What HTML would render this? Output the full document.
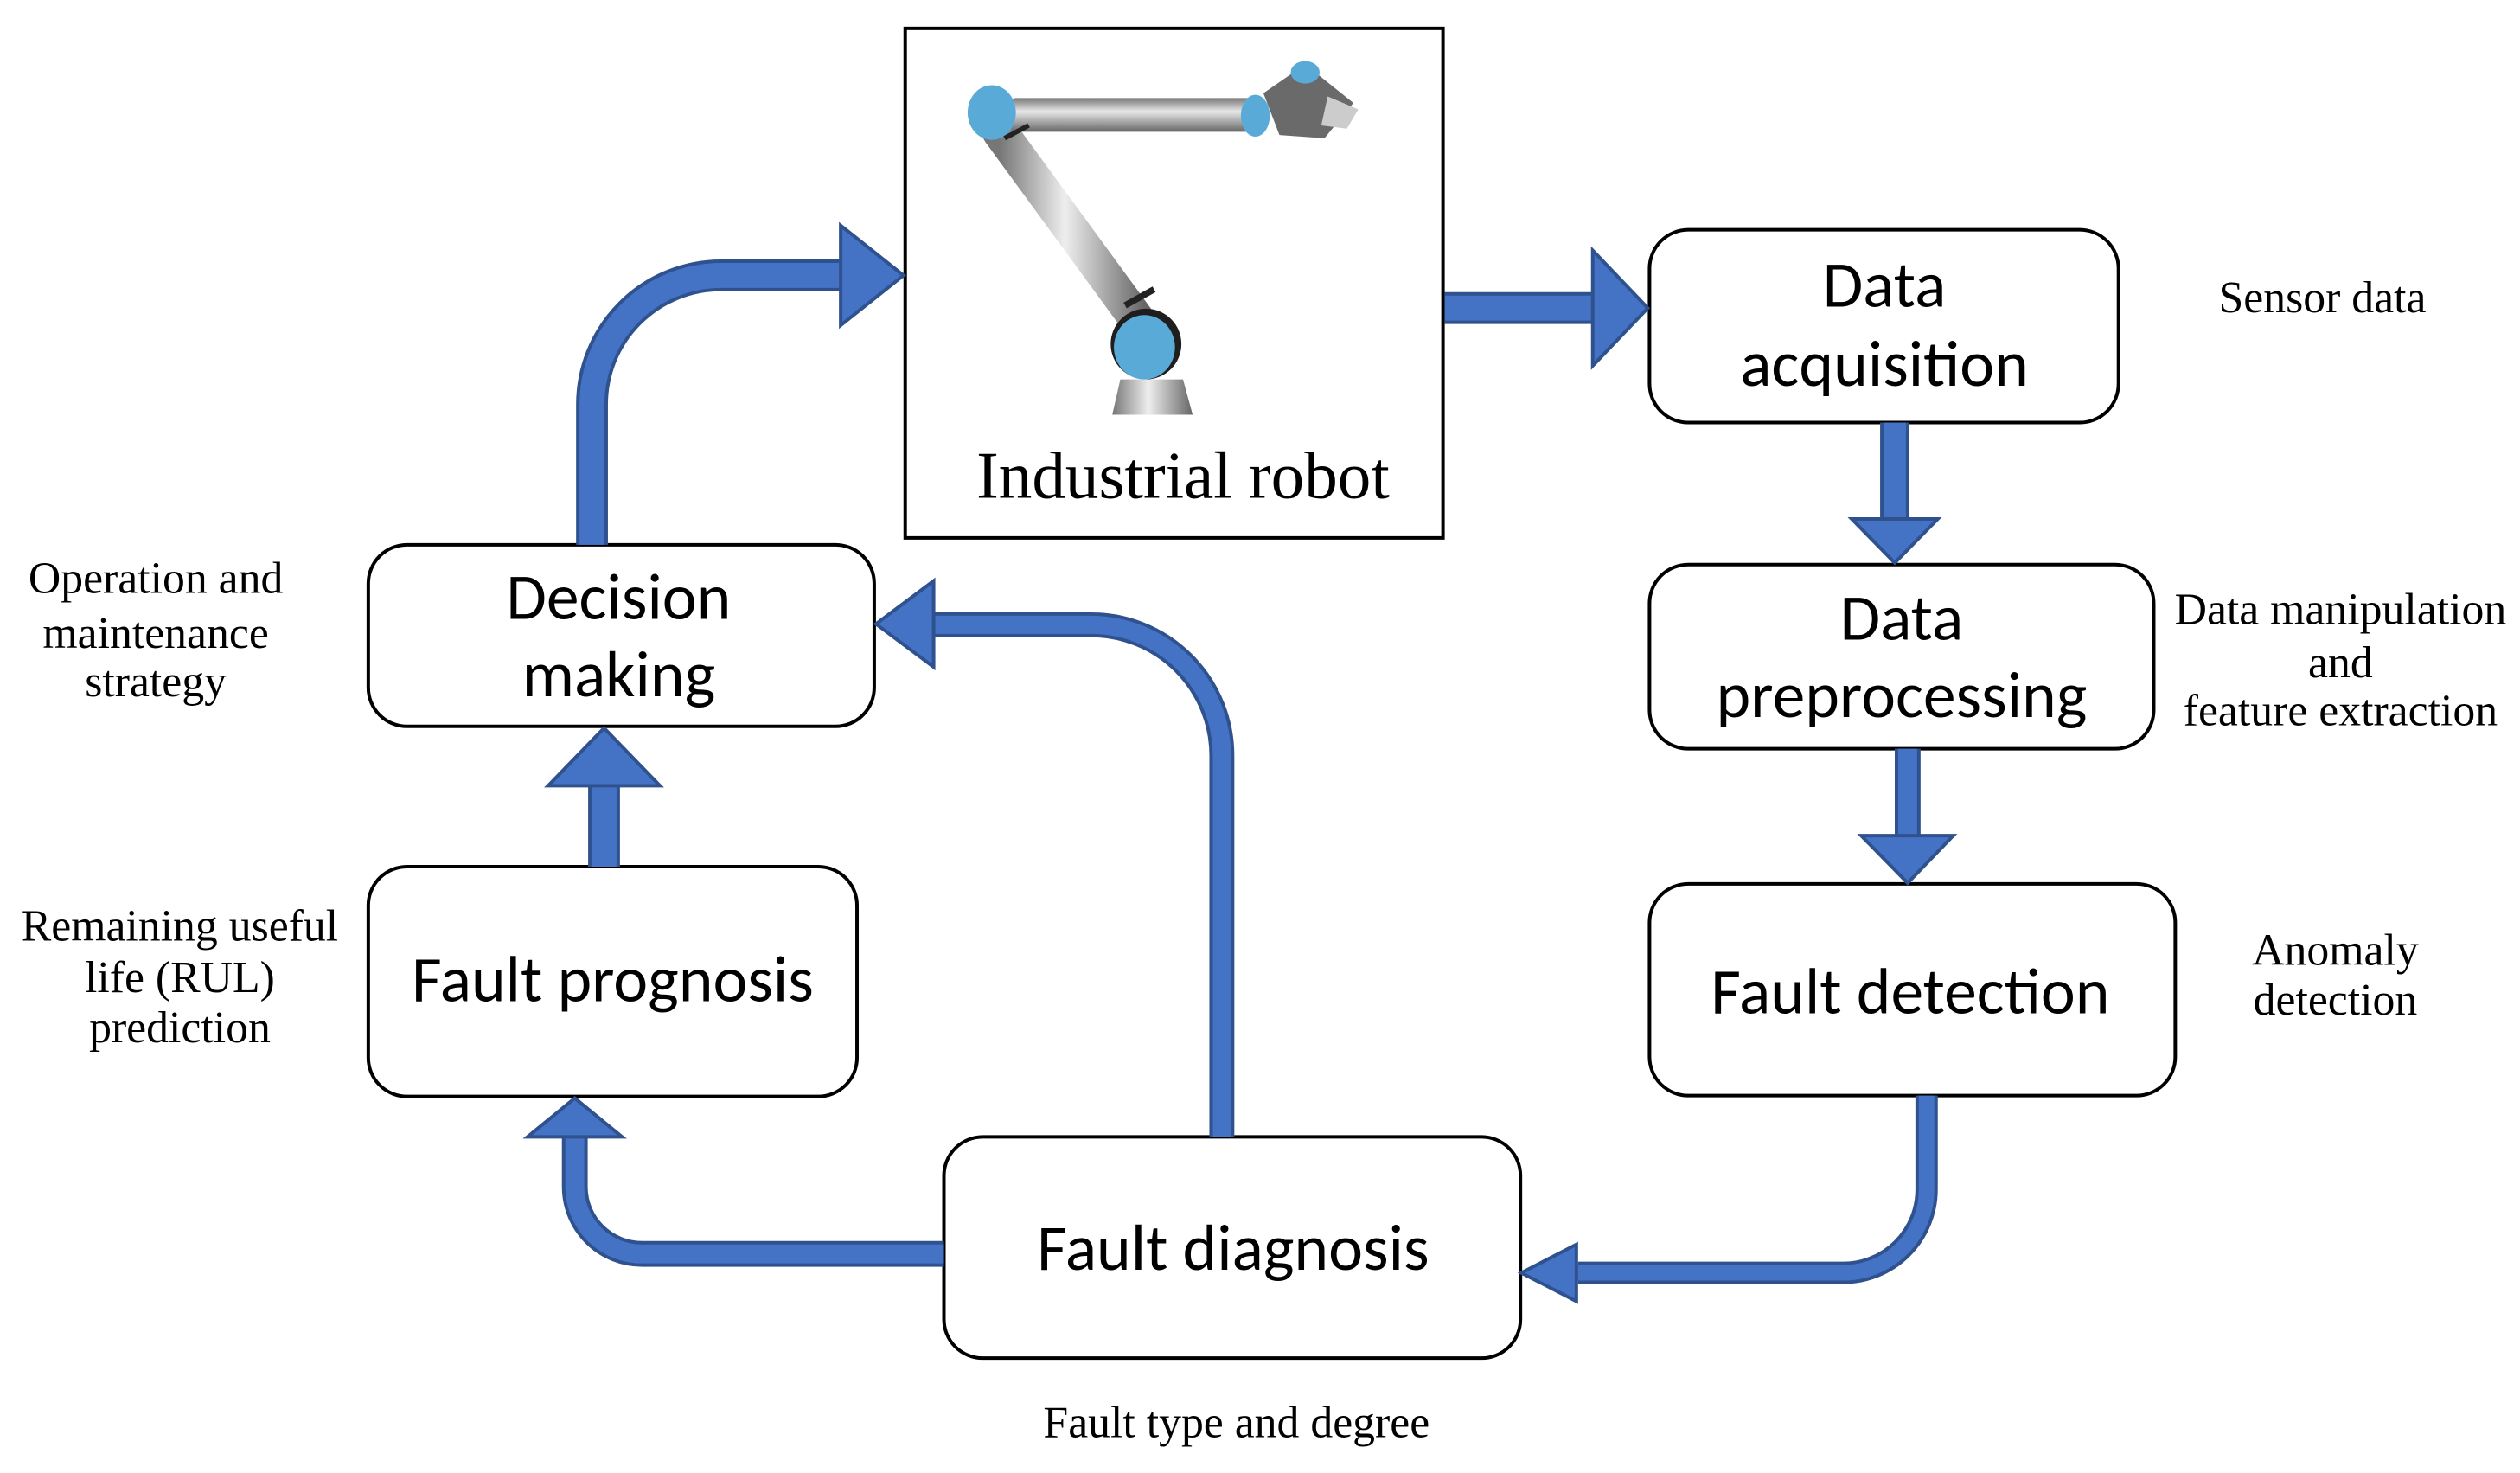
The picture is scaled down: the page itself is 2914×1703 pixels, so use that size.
<!DOCTYPE html>
<html><head><meta charset="utf-8"><style>
html,body{margin:0;padding:0;background:#fff;}
svg{display:block;}
.bx{font-family:"Carlito","Liberation Sans",sans-serif;font-size:76px;fill:#000;text-anchor:middle;dominant-baseline:middle;transform:translateY(6px);}
.sd{font-family:"Liberation Serif",serif;font-size:52px;fill:#000;text-anchor:middle;dominant-baseline:middle;transform:translateY(5px);}
</style></head><body>
<svg width="2914" height="1703" viewBox="0 0 2914 1703" xmlns="http://www.w3.org/2000/svg">
<defs>
<linearGradient id="g1" x1="0" y1="0" x2="0" y2="1"><stop offset="0" stop-color="#777"/><stop offset="0.4" stop-color="#e8e8e8"/><stop offset="1" stop-color="#666"/></linearGradient>
<linearGradient id="g2" x1="0" y1="0" x2="1" y2="0"><stop offset="0" stop-color="#777"/><stop offset="0.45" stop-color="#eee"/><stop offset="1" stop-color="#666"/></linearGradient>
</defs>
<g transform="scale(0.995)">
<!-- Robot box -->
<rect x="1052" y="33" width="625" height="592" fill="#fff" stroke="#000" stroke-width="4"/>
<g transform="scale(1.868)">
  <line x1="622" y1="82" x2="712" y2="205" stroke="url(#g2)" stroke-width="22" stroke-linecap="round"/>
  <rect x="628" y="61" width="158" height="21" rx="4" fill="url(#g1)"/>
  <polygon points="786,58 812,40 842,64 824,86 796,84" fill="#6a6a6a"/>
  <polygon points="826,60 845,68 838,80 822,78" fill="#ccc"/>
  <ellipse cx="812" cy="45" rx="9" ry="7" fill="#5aaad8"/>
  <ellipse cx="781" cy="72" rx="9" ry="13" fill="#5aaad8"/>
  <ellipse cx="617" cy="70" rx="15" ry="17" fill="#5aaad8"/>
  <line x1="625" y1="86" x2="640" y2="78" stroke="#222" stroke-width="3"/>
  <line x1="700" y1="190" x2="718" y2="180" stroke="#222" stroke-width="4"/>
  <ellipse cx="713" cy="214" rx="22" ry="22" fill="#1e1e1e"/>
  <ellipse cx="712" cy="216" rx="19" ry="20" fill="#5aaad8"/>
  <polygon points="697,236 736,236 742,258 692,258" fill="url(#g2)"/>
  <text x="736" y="300" style="font-family:'Liberation Serif',serif;font-size:41.5px;text-anchor:middle;dominant-baseline:middle">Industrial robot</text>
</g>

<!-- Boxes -->
<g fill="#fff" stroke="#000" stroke-width="4">
<rect x="1917" y="267" width="545" height="224" rx="45"/>
<rect x="1917" y="656" width="586" height="214" rx="45"/>
<rect x="1917" y="1027" width="611" height="246" rx="45"/>
<rect x="1097" y="1321" width="670" height="257" rx="45"/>
<rect x="428" y="633" width="588" height="211" rx="45"/>
<rect x="428" y="1007" width="568" height="267" rx="45"/>
</g>
<text class="bx" x="2190" y="332">Data</text>
<text class="bx" x="2190" y="424">acquisition</text>
<text class="bx" x="2210" y="719">Data</text>
<text class="bx" x="2210" y="809">preprocessing</text>
<text class="bx" x="2220" y="1153">Fault detection</text>
<text class="bx" x="1433" y="1451">Fault diagnosis</text>
<text class="bx" x="712" y="1139">Fault prognosis</text>
<text class="bx" x="719" y="695">Decision</text>
<text class="bx" x="719" y="785">making</text>

<!-- Side labels -->
<text class="sd" x="2699" y="346">Sensor data</text>
<text class="sd" x="2720" y="708">Data manipulation</text>
<text class="sd" x="2720" y="770">and</text>
<text class="sd" x="2720" y="826">feature extraction</text>
<text class="sd" x="2714" y="1104">Anomaly</text>
<text class="sd" x="2714" y="1162">detection</text>
<text class="sd" x="1437" y="1653">Fault type and degree</text>
<text class="sd" x="181" y="672">Operation and</text>
<text class="sd" x="181" y="736">maintenance</text>
<text class="sd" x="181" y="792">strategy</text>
<text class="sd" x="209" y="1076">Remaining useful</text>
<text class="sd" x="209" y="1136">life (RUL)</text>
<text class="sd" x="209" y="1194">prediction</text>

<!-- Arrows -->
<g fill="none" stroke-linejoin="round">
  <g stroke="#2F528F">
    <path d="M688 633 V470 A150 150 0 0 1 838 320 H980" stroke-width="37"/>
    <path d="M1679 358 H1853" stroke-width="37"/>
    <path d="M2202 491 V605" stroke-width="34"/>
    <path d="M2217 870 V974" stroke-width="30"/>
    <path d="M2239 1273 V1382 A97 97 0 0 1 2142 1479 H1834" stroke-width="26"/>
    <path d="M1420 1321 V878 A152 152 0 0 0 1268 726 H1086" stroke-width="29"/>
    <path d="M1097 1457 H746 A78 78 0 0 1 668 1379 V1320" stroke-width="30"/>
    <path d="M702 1007 V910" stroke-width="37"/>
  </g>
  <g stroke="#4472C4">
    <path d="M688 633 V470 A150 150 0 0 1 838 320 H982" stroke-width="29"/>
    <path d="M1679 358 H1855" stroke-width="29"/>
    <path d="M2202 491 V607" stroke-width="26"/>
    <path d="M2217 870 V976" stroke-width="22"/>
    <path d="M2239 1273 V1382 A97 97 0 0 1 2142 1479 H1832" stroke-width="18"/>
    <path d="M1420 1321 V878 A152 152 0 0 0 1268 726 H1084" stroke-width="21"/>
    <path d="M1097 1457 H746 A78 78 0 0 1 668 1379 V1318" stroke-width="22"/>
    <path d="M702 1007 V908" stroke-width="29"/>
  </g>
</g>
<g fill="#4472C4" stroke="#2F528F" stroke-width="4" stroke-linejoin="miter">
  <polygon points="977,262 1050,320 977,378"/>
  <polygon points="1851,291 1915,358 1851,425"/>
  <polygon points="2152,603 2252,603 2202,654"/>
  <polygon points="2163,971 2270,971 2217,1026"/>
  <polygon points="1832,1446 1832,1512 1768,1479"/>
  <polygon points="1085,675 1085,775 1018,725"/>
  <polygon points="613,1321 723,1321 668,1276"/>
  <polygon points="637,913 767,913 702,846"/>
</g>
</g>
</svg>
</body></html>
